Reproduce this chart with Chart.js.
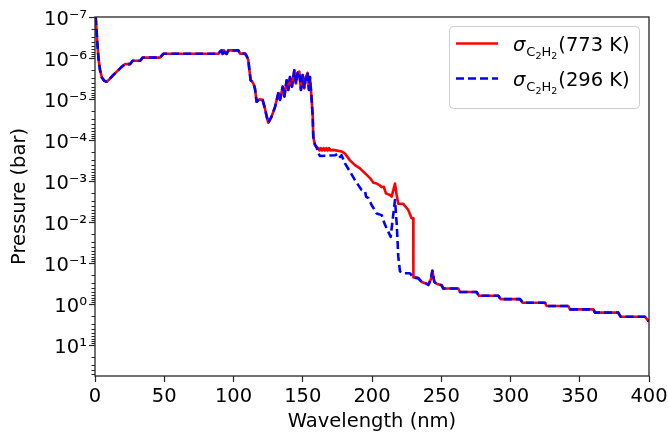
<!DOCTYPE html>
<html>
<head>
<meta charset="utf-8">
<script src="https://cdn.jsdelivr.net/npm/chart.js@4"></script>
<style>
  body { margin: 0; background: #fff; }
  #wrap { width: 668px; height: 437px; }
</style>
</head>
<body>
<div id="wrap"><canvas id="pressureChart" width="668" height="437"></canvas></div>
<script>
// C2H2 photolysis depth vs wavelength

// shared part, both temperatures (nm, bar)
const wlCommon = [0.5, 1.0, 1.7, 2.5, 3.6, 5.0, 6.5, 8.4, 10, 12.5, 15.7, 18.5, 21.7, 25.3, 27.2, 32.5, 34.4, 46.9, 49.3, 89.0,
    90.5, 91.5, 92.2, 93.0, 94.0, 95.0, 96.3, 103.5, 104.7, 108.3, 109.5, 110.7, 111.5, 112.4, 113.6, 114.8, 115.5, 116.7, 118.6, 121.0,
    122.7, 124.0, 125.1, 127.5, 130.0, 132.4, 133.6, 135.5, 136.7, 138.4, 139.6, 140.8, 142.2, 143.9, 145.1, 146.3, 147.5, 148.7, 149.9, 151.1,
    152.3, 153.5, 154.5, 155.2, 156.2, 157.2, 157.6, 158.8, 160.0];
const pCommon = [1.0e-7, 1.8e-7, 4.4e-7, 1.0e-6, 1.95e-6, 3.0e-6, 3.55e-6, 3.8e-6, 3.4e-6, 2.75e-6, 2.15e-6, 1.74e-6, 1.41e-6, 1.41e-6, 1.17e-6, 1.17e-6, 9.8e-7, 9.8e-7, 7.9e-7, 7.9e-7,
    6.9e-7, 6.5e-7, 7.9e-7, 6.5e-7, 7.6e-7, 7.9e-7, 6.5e-7, 6.5e-7, 7.8e-7, 7.8e-7, 8.9e-7, 1.12e-6, 2.0e-6, 3.5e-6, 3.8e-6, 4.6e-6, 5.6e-6, 1.17e-5, 1.02e-5, 1.05e-5,
    1.7e-5, 2.7e-5, 3.8e-5, 2.7e-5, 1.55e-5, 7.2e-6, 1.05e-5, 5.0e-6, 8.7e-6, 3.5e-6, 6.0e-6, 2.9e-6, 5.0e-6, 2.0e-6, 4.2e-6, 2.3e-6, 2.15e-6, 6.0e-6, 2.6e-6, 5.5e-6,
    2.9e-6, 2.3e-6, 6.0e-6, 2.9e-6, 7.9e-6, 2.7e-5, 8.3e-5, 1.3e-4, 1.5e-4];

// 773 K, where it splits off
const wlHot = [161.2, 162, 163, 164, 165, 166, 167, 168, 169, 170, 172, 178, 180.5, 184, 187.7, 191.3, 193.7, 196.2, 198.6, 201,
    203.4, 205.3, 207, 208.5, 210.1, 213, 214.2, 216.6, 217.8, 219, 222.6, 226.2, 228.6, 229.8];
const pHot = [1.58e-4, 1.8e-4, 1.58e-4, 1.8e-4, 1.58e-4, 1.8e-4, 1.58e-4, 1.8e-4, 1.58e-4, 1.8e-4, 1.74e-4, 1.9e-4, 2.15e-4, 3.1e-4, 4.1e-4, 4.9e-4, 5.9e-4, 7.1e-4, 8.5e-4, 1.1e-3,
    1.15e-3, 1.26e-3, 1.4e-3, 1.38e-3, 2.0e-3, 2.2e-3, 2.4e-3, 1.15e-3, 2.2e-3, 3.6e-3, 3.6e-3, 5.1e-3, 8.1e-3, 8.1e-3];

// 296 K
const wlCold = [161.3, 162.5, 173.3, 175.7, 176.9, 178, 180.5, 184.1, 187.7, 190.1, 192.5, 195, 195.7, 197.4, 199.8, 203.4, 207, 209.4, 211.8, 213.5,
    214.9, 216.6, 217.8, 219, 220.2, 222.6, 227.4, 229.8];
const pCold = [2.15e-4, 2.45e-4, 2.35e-4, 2.15e-4, 2.6e-4, 2.35e-4, 3.7e-4, 5.9e-4, 9.5e-4, 1.26e-3, 1.66e-3, 1.8e-3, 2.4e-3, 2.6e-3, 3.9e-3, 6.2e-3, 6.8e-3, 1.17e-2, 1.74e-2, 2.3e-2,
    8.9e-3, 2.9e-3, 1.07e-2, 7.1e-2, 0.16, 0.178, 0.178, 0.224];

// long-wavelength tail, both temperatures
const wlTail = [229.9, 233.4, 235.9, 239.5, 240.7, 242.5, 243.6, 245, 246.7, 250.3, 251.5, 262.3, 263.5, 275.5, 277.2, 291.2, 292.9, 306.9, 308.8, 324.9,
    326.1, 341.7, 343, 359.8, 361, 377.8, 379.5, 397.1, 399.5, 400];
const pTail = [0.224, 0.234, 0.29, 0.32, 0.34, 0.25, 0.155, 0.29, 0.32, 0.35, 0.42, 0.42, 0.51, 0.51, 0.63, 0.63, 0.76, 0.76, 0.93, 0.93,
    1.12, 1.12, 1.35, 1.35, 1.62, 1.62, 2.04, 2.04, 2.57, 2.63];

const seriesTemps = ["773 K", "296 K"];
const seriesColors = ["#ff0000", "#0000ff"];
const yDecades = [-7, -6, -5, -4, -3, -2, -1, 0, 1];
const xTicks = [0, 50, 100, 150, 200, 250, 300, 350, 400];

const FONT = "DejaVu Sans";
const FSIZE = 19.5;

function toPoints(xs, ys) {
    return xs.map((x, i) => ({ x: x, y: ys[i] }));
}

const hotPoints = toPoints(wlCommon, pCommon).concat(toPoints(wlHot, pHot), toPoints(wlTail, pTail));
const coldPoints = toPoints(wlCommon, pCommon).concat(toPoints(wlCold, pCold), toPoints(wlTail, pTail));

const supMap = { "-": "\u207b", "0": "\u2070", "1": "\u00b9", "2": "\u00b2", "3": "\u00b3", "4": "\u2074", "5": "\u2075", "6": "\u2076", "7": "\u2077", "8": "\u2078", "9": "\u2079" };
function powLabel(n) {
    return "10" + String(n).split("").map(c => supMap[c]).join("");
}

// frame round the plot + log minor ticks
const framePlugin = {
    id: "frame",
    afterDraw(chart) {
        const ctx = chart.ctx;
        const a = chart.chartArea;
        const ys = chart.scales.y;
        ctx.save();
        ctx.strokeStyle = "#262626";
        ctx.lineWidth = 1;
        for (let n = -7; n <= 1; n++) {
            for (let k = 2; k <= 9; k++) {
                const v = k * Math.pow(10, n);
                if (v < ys.min || v > ys.max) continue;
                const py = Math.round(ys.getPixelForValue(v)) + 0.5;
                ctx.beginPath();
                ctx.moveTo(a.left - 3.5, py);
                ctx.lineTo(a.left, py);
                ctx.stroke();
            }
        }
        ctx.lineWidth = 1.3;
        ctx.strokeRect(a.left, a.top, a.right - a.left, a.bottom - a.top);
        ctx.restore();
    }
};

// legend with sub-subscripts (sigma_{C_2H_2})
const legendPlugin = {
    id: "subLegend",
    afterDraw(chart) {
        const ctx = chart.ctx;
        const bx = 449, by = 26, bw = 190, bh = 82;
        ctx.save();
        ctx.fillStyle = "rgba(255,255,255,0.8)";
        ctx.strokeStyle = "#cccccc";
        ctx.lineWidth = 1;
        ctx.beginPath();
        ctx.roundRect(bx + 0.5, by + 0.5, bw, bh, 4);
        ctx.fill();
        ctx.stroke();

        chart.data.datasets.forEach((ds, i) => {
            const base = 51 + i * 35;
            const ly = base - 7.5;
            ctx.strokeStyle = ds.borderColor;
            ctx.lineWidth = ds.borderWidth;
            ctx.setLineDash(ds.borderDash || []);
            ctx.beginPath();
            ctx.moveTo(456, ly);
            ctx.lineTo(498, ly);
            ctx.stroke();
            ctx.setLineDash([]);

            ctx.fillStyle = "#000";
            ctx.textBaseline = "alphabetic";
            let x = 513;
            ctx.font = "italic " + FSIZE + "px '" + FONT + "'";
            ctx.fillText("\u03c3", x, base);
            x += ctx.measureText("\u03c3").width + 1;
            const pieces = [["C", 1], ["2", 2], ["H", 1], ["2", 2]];
            pieces.forEach(p => {
                const size = p[1] === 1 ? 13 : 9.5;
                const drop = p[1] === 1 ? 5 : 8;
                ctx.font = size + "px '" + FONT + "'";
                ctx.fillText(p[0], x, base + drop);
                x += ctx.measureText(p[0]).width;
            });
            x += 1;
            ctx.font = FSIZE + "px '" + FONT + "'";
            ctx.fillText("(" + seriesTemps[i] + ")", x, base);
        });
        ctx.restore();
    }
};

const ctxEl = document.getElementById("pressureChart");

new Chart(ctxEl, {
    type: "line",
    data: {
        datasets: [
            {
                label: "\u03c3C\u2082H\u2082(" + seriesTemps[0] + ")",
                data: hotPoints,
                borderColor: seriesColors[0],
                borderWidth: 2.6,
                borderJoinStyle: "round",
                pointRadius: 0,
                tension: 0,
                fill: false,
                order: 2
            },
            {
                label: "\u03c3C\u2082H\u2082(" + seriesTemps[1] + ")",
                data: coldPoints,
                borderColor: seriesColors[1],
                borderWidth: 2.6,
                borderDash: [8, 4],
                borderJoinStyle: "round",
                pointRadius: 0,
                tension: 0,
                fill: false,
                order: 1
            }
        ]
    },
    options: {
        responsive: false,
        animation: false,
        layout: { padding: { left: 0, right: 19, top: 17, bottom: 0 } },
        plugins: {
            legend: { display: false },
            tooltip: { enabled: false }
        },
        scales: {
            x: {
                type: "linear",
                min: 0,
                max: 400,
                afterBuildTicks(scale) {
                    scale.ticks = xTicks.map(v => ({ value: v }));
                },
                afterFit(scale) {
                    scale.height = 61;
                    scale.paddingLeft = 0;
                    scale.paddingRight = 0;
                },
                ticks: {
                    color: "#000",
                    font: { family: FONT, size: FSIZE },
                    padding: 3,
                    maxRotation: 0
                },
                grid: {
                    drawOnChartArea: false,
                    tickLength: 6,
                    tickColor: "#262626",
                    tickWidth: 1.2
                },
                border: { display: false },
                title: {
                    display: true,
                    text: "Wavelength (nm)",
                    color: "#000",
                    font: { family: FONT, size: FSIZE },
                    padding: { top: 0, bottom: 3 }
                }
            },
            y: {
                type: "logarithmic",
                reverse: true,
                min: 1e-7,
                max: 57,
                afterBuildTicks(scale) {
                    scale.ticks = yDecades.map(n => ({ value: Math.pow(10, n), major: true }));
                },
                afterFit(scale) {
                    scale.width = 95;
                    scale.paddingTop = 0;
                    scale.paddingBottom = 0;
                },
                ticks: {
                    color: "#000",
                    font: { family: FONT, size: FSIZE },
                    padding: 2,
                    labelOffset: 3,
                    callback: function (value) {
                        return powLabel(Math.round(Math.log10(value)));
                    }
                },
                grid: {
                    drawOnChartArea: false,
                    tickLength: 6,
                    tickColor: "#262626",
                    tickWidth: 1.2
                },
                border: { display: false },
                title: {
                    display: true,
                    text: "Pressure (bar)",
                    color: "#000",
                    font: { family: FONT, size: FSIZE },
                    padding: { top: 8, bottom: 0 }
                }
            }
        }
    },
    plugins: [framePlugin, legendPlugin]
});
</script>
</body>
</html>
